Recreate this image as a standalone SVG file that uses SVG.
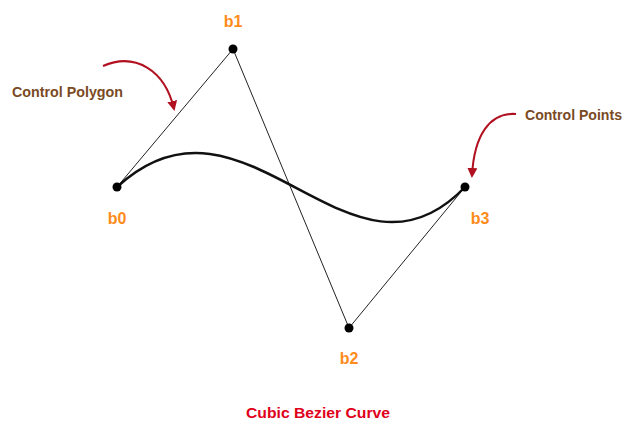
<svg xmlns="http://www.w3.org/2000/svg" width="628" height="425" viewBox="0 0 628 425">
<style>
.poly{stroke:#222;stroke-width:1;fill:none}
.curve{stroke:#111;stroke-width:2.5;fill:none}
.pt{fill:#000}
.lbl{font-family:"Liberation Sans",Arial,sans-serif;font-weight:bold;font-size:16px;fill:#FF8C1A;text-anchor:middle}
.note{font-family:"Liberation Sans",Arial,sans-serif;font-weight:bold;font-size:14px;fill:#7A4A24}
.arr{stroke:#B01020;stroke-width:2;fill:none;marker-end:url(#ah)}
.cap{font-family:"Liberation Sans",Arial,sans-serif;font-weight:bold;font-size:15px;fill:#E0001A;text-anchor:middle}
</style>
<defs>
<marker id="ah" viewBox="0 0 10 10" refX="8" refY="5" markerWidth="5" markerHeight="5" orient="auto">
<path d="M0,0 L10,5 L0,10 z" fill="#B01020"/>
</marker>
</defs>
<rect width="628" height="425" fill="#fff"/>
<g id="connectors">
<path class="poly" d="M117,187 L233,49 L349,328 L465,187"/>
<path id="curve" class="curve" d="M117,187 C245,68 350,308 465,187"/>
<path class="arr" d="M103,66 C135,52 165,70 174,109"/>
<path class="arr" d="M516,114 C490,112 474,135 472,176"/>
</g>
<g id="b0"><circle class="pt" cx="117" cy="187" r="4.5"/><text class="lbl" x="117" y="224">b0</text></g>
<g id="b1"><circle class="pt" cx="233" cy="49" r="4.5"/><text class="lbl" x="233" y="27">b1</text></g>
<g id="b2"><circle class="pt" cx="349" cy="328" r="4.5"/><text class="lbl" x="349" y="364">b2</text></g>
<g id="b3"><circle class="pt" cx="465" cy="187" r="4.5"/><text class="lbl" x="480" y="224">b3</text></g>
<g id="control-polygon-label"><text class="note" x="12" y="97" textLength="111" lengthAdjust="spacingAndGlyphs">Control Polygon</text></g>
<g id="control-points-label"><text class="note" x="525" y="120" textLength="97" lengthAdjust="spacingAndGlyphs">Control Points</text></g>
<g id="caption"><text class="cap" x="318" y="418" textLength="144" lengthAdjust="spacingAndGlyphs">Cubic Bezier Curve</text></g>
</svg>
